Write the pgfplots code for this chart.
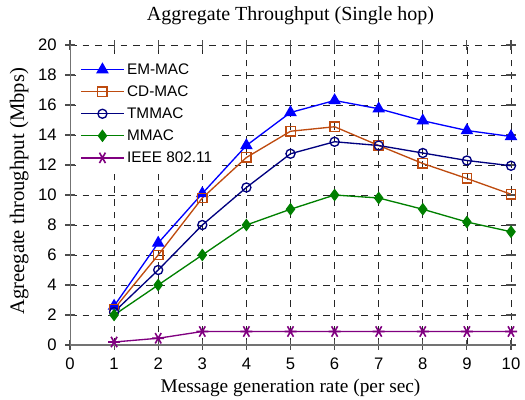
\documentclass[border=0pt]{standalone}
\usepackage{fontspec}
\setmainfont{Liberation Serif}
\setsansfont{Liberation Sans}
\usepackage{pgfplots}
\pgfplotsset{compat=1.18}

\definecolor{emmac}{RGB}{0,0,255}
\definecolor{cdmac}{RGB}{190,75,15}
\definecolor{tmmac}{RGB}{0,0,128}
\definecolor{mmac}{RGB}{0,128,0}
\definecolor{ieee}{RGB}{128,0,128}

\begin{document}
\begin{tikzpicture}
\useasboundingbox (-52.5pt,-41.25pt) rectangle (341.25pt,258.75pt);
\begin{axis}[
  at={(0,0)}, anchor=south west,
  scale only axis, width=330.75pt, height=225pt,
  xmin=0, xmax=10, ymin=0, ymax=20,
  xtick={0,1,...,10}, ytick={0,2,...,20},
  axis line style={draw=none},
  tick align=center, major tick length=7pt,
  tick style={black!70, line width=0.8pt},
  grid=major,
  major grid style={black!85, dash pattern=on 5pt off 4.5pt, line width=0.6pt},
  /pgf/number format/assume math mode=true,
  tick label style={font=\sffamily\fontsize{12.5}{14}\selectfont},
  xticklabel style={yshift=-5pt, inner sep=1pt},
  yticklabel style={xshift=-3pt},
  every axis title shift=0pt,
  title={Aggregate Throughput (Single hop)},
  title style={at={(axis description cs:0.5,1.08)}, anchor=base, font=\fontsize{15}{17}\selectfont},
  xlabel={Message generation rate (per sec)},
  xlabel style={at={(axis description cs:0.5,-0.157)}, anchor=base, inner sep=1pt, font=\fontsize{14.5}{17}\selectfont},
  ylabel={Agreegate throughput (Mbps)},
  ylabel style={at={(axis description cs:-0.104,0.512)}, anchor=base, rotate=0, font=\fontsize{15.5}{17}\selectfont},
  legend style={at={(0.014,0.962)}, anchor=north west, draw=none, fill=white,
    font=\sffamily\fontsize{11.5}{13}\selectfont, row sep=3pt, inner sep=3pt},
  legend cell align=left,
  legend image code/.code={\draw[mark repeat=2,mark phase=2,#1] plot coordinates {(0pt,0pt) (16pt,0pt) (32pt,0pt)};},
  every axis plot/.append style={line width=1pt},
]
\addplot[emmac, mark=triangle*, mark size=4.5pt, mark options={solid}] coordinates {
  (1,2.6) (2,6.8) (3,10.1) (4,13.3) (5,15.5) (6,16.3) (7,15.75) (8,14.95) (9,14.3) (10,13.9)};
\addlegendentry{EM-MAC}
\addplot[cdmac, mark=square, mark size=3.5pt] coordinates {
  (1,2.4) (2,6.0) (3,9.8) (4,12.5) (5,14.25) (6,14.55) (7,13.3) (8,12.1) (9,11.1) (10,10.05)};
\addlegendentry{CD-MAC}
\addplot[tmmac, mark=o, mark size=3.4pt, mark options={fill=white}] coordinates {
  (1,2.2) (2,5.0) (3,8.0) (4,10.5) (5,12.75) (6,13.55) (7,13.3) (8,12.8) (9,12.3) (10,11.95)};
\addlegendentry{TMMAC}
\addplot[mmac, mark=diamond*, mark size=4pt] coordinates {
  (1,2.0) (2,4.0) (3,6.0) (4,8.0) (5,9.05) (6,10.0) (7,9.8) (8,9.05) (9,8.2) (10,7.55)};
\addlegendentry{MMAC}
\addplot[ieee, mark=asterisk, mark size=4.5pt, mark options={rotate=90, line width=1.2pt}] coordinates {
  (1,0.2) (2,0.45) (3,0.9) (4,0.9) (5,0.9) (6,0.9) (7,0.9) (8,0.9) (9,0.9) (10,0.9)};
\addlegendentry{IEEE 802.11}
\draw[gray!90!black, line width=1.4pt] (rel axis cs:0,1) -- (rel axis cs:0,0) -- (rel axis cs:1,0);
\end{axis}
\end{tikzpicture}
\end{document}
